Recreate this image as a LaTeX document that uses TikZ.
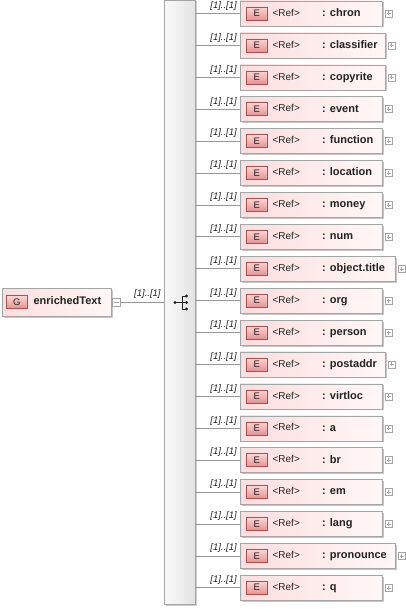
\documentclass[tikz,border=0pt]{standalone}
\usepackage{fontspec}
\setmainfont{Liberation Sans}
\usetikzlibrary{positioning,shadows}
\definecolor{boxline}{RGB}{165,165,165}
\definecolor{connline}{RGB}{150,150,150}
\definecolor{pinkL}{RGB}{252,222,222}
\definecolor{pinkR}{RGB}{255,247,247}
\definecolor{badgetop}{RGB}{251,214,214}
\definecolor{badgebot}{RGB}{230,146,146}
\definecolor{badgeline}{RGB}{170,80,80}
\definecolor{txt}{RGB}{35,35,35}
\tikzset{elem/.style={draw=boxline, left color=pinkL, right color=pinkR, minimum height=25pt, inner sep=0pt, anchor=west,
    drop shadow={shadow xshift=1.5pt, shadow yshift=-1.5pt, opacity=.22, fill=black}}}
\tikzset{badge/.style={draw=badgeline, top color=badgetop, bottom color=badgebot, minimum width=21pt, minimum height=13pt, inner sep=0pt,
    text=txt, font=\fontsize{9.5}{9.5}\selectfont}}
\tikzset{reftxt/.style={text=txt, inner sep=0pt, anchor=west, text height=7.5pt, text depth=2pt, font=\fontsize{10}{11}\selectfont}}
\tikzset{nametxt/.style={text=txt, inner sep=0pt, anchor=west, text height=8pt, text depth=2.2pt, font=\fontsize{11}{12}\selectfont\bfseries}}
\tikzset{mult/.style={text=txt, inner sep=0pt, font=\fontsize{9.5}{10}\selectfont\itshape}}
\tikzset{seqbar/.style={draw=boxline, left color=gray!4, right color=gray!22, minimum width=31pt, minimum height=604pt, inner sep=0pt,
    drop shadow={shadow xshift=1.5pt, shadow yshift=-1.5pt, opacity=.2, fill=black}}}
\tikzset{plusbox/.style={draw=boxline, fill=white, minimum size=7pt, inner sep=0pt, path picture={
    \draw[boxline] ([xshift=1.5pt]path picture bounding box.west) -- ([xshift=-1.5pt]path picture bounding box.east);
    \draw[boxline] ([yshift=-1.5pt]path picture bounding box.north) -- ([yshift=1.5pt]path picture bounding box.south);}}}
\tikzset{minusbox/.style={draw=boxline, fill=white, minimum size=8pt, inner sep=0pt, path picture={
    \draw[boxline] ([xshift=1.5pt]path picture bounding box.west) -- ([xshift=-1.5pt]path picture bounding box.east);}}}
\tikzset{conn/.style={draw=connline, line width=0.6pt}}
\begin{document}
\begin{tikzpicture}[x=1pt,y=-1pt]
\useasboundingbox (0,0) rectangle (405,609);

% root element
\node[elem, minimum width=109pt, minimum height=28pt] (root) at (2,302) {};
\node[badge, right=4pt of root.west] (g) {G};
\node[nametxt, right=6pt of g] (rootname) {enrichedText};
\node[minusbox, right=1pt of root] (rminus) {};

% sequence compositor
\node[seqbar] (seq) at (179.5,302) {};
\draw[conn] (rminus) -- (seq);
\node[mult, above left=3pt and 3pt of seq.west] (rmult) {[1]..[1]};
\fill[txt] (175,302.5) circle (1.7);
\draw[txt, line width=0.8pt] (175,302.5) -- (182,302.5) (182,296) -- (182,309)
    (182,296) -- (186,296) (182,302.5) -- (186,302.5) (182,309) -- (186,309);
\foreach \y in {296,302.5,309}
    \fill[txt] (186.5,\y) circle (1.7);

% children
\foreach \name/\w [count=\i from 0] in {chron/142,classifier/145,copyrite/145,event/142,function/142,location/142,
    money/142,num/142,object.title/155,org/142,person/142,postaddr/145,virtloc/142,a/142,br/142,em/142,lang/142,
    pronounce/155,q/142}{
    \node[elem, minimum width=\w pt] (c\i) at (240,{13.5+31.9*\i}) {};
    \node[badge, right=6pt of c\i.west] (b\i) {E};
    \node[reftxt, right=5pt of b\i] (r\i) {<Ref>};
    \node[nametxt] (n\i) at ([xshift=82pt]c\i.west) {: \name};
    \node[plusbox, right=2.5pt of c\i] (p\i) {};
    \draw[conn] (seq.east |- c\i.west) -- (c\i.west);
    \node[mult, above left=3pt and 3pt of c\i.west] (m\i) {[1]..[1]};
}
\end{tikzpicture}
\end{document}
